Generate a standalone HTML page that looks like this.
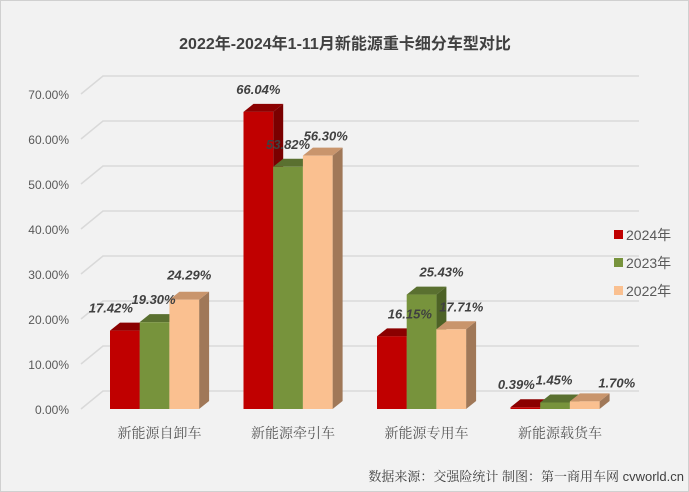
<!DOCTYPE html>
<html><head><meta charset="utf-8"><style>
body{margin:0;background:#fff}
#c{position:relative;width:689px;height:492px;background:#f2f2f2;box-sizing:border-box;border:1px solid #d0d0d0;overflow:hidden}
</style></head><body>
<div id="c">
<svg id="s" width="689" height="492" style="position:absolute;left:0;top:0"></svg>
</div>
<script>
const categories=["新能源自卸车","新能源牵引车","新能源专用车","新能源载货车"];
const series2024=[17.42,66.04,16.15,0.39];
const series2023=[19.30,53.82,25.43,1.45];
const series2022=[24.29,56.30,17.71,1.70];
const seriesNames=["2024年","2023年","2022年"];
const tickValues=[0,10,20,30,40,50,60,70];
const tickLabels=["0.00%","10.00%","20.00%","30.00%","40.00%","50.00%","60.00%","70.00%"];
const valueLabels2024=["17.42%","66.04%","16.15%","0.39%"];
const valueLabels2023=["19.30%","53.82%","25.43%","1.45%"];
const valueLabels2022=["24.29%","56.30%","17.71%","1.70%"];

const NS="http://www.w3.org/2000/svg";
const s=document.getElementById('s');
function mk(t,a,txt){const e=document.createElementNS(NS,t);for(const k in a)e.setAttribute(k,a[k]);if(txt!=null)e.textContent=txt;s.appendChild(e);return e;}
const y0=408, k=4.5;
const y=v=>y0-v*k;
const groupX=i=>109+i*133.5;
const bw=29.7, dx=10, dy=8;
const gdx=22, gdy=18;
const FONT='"Liberation Sans","Noto Sans CJK SC",sans-serif';

let t=mk('text',{x:344,y:48,'text-anchor':'middle','font-size':16,'font-weight':'bold',fill:'#404040','font-family':FONT},"2022年-2024年1-11月新能源重卡细分车型对比");


tickValues.forEach((v,i)=>{
  let l=mk('polyline',{points:`${80},${y(v)} ${80+gdx},${y(v)-gdy} 638,${y(v)-gdy}`,fill:'none',stroke:'#d9d9d9','stroke-width':1.5});
  
  let tx=mk('text',{x:68,y:y(v)+5,'text-anchor':'end','font-size':12,fill:'#595959','font-family':FONT},tickLabels[i]);
  
});

const sets=[[series2024,valueLabels2024,'#c00000','#8b0000','#7a0000'],[series2023,valueLabels2023,'#77933c','#5a7030','#4d6226'],[series2022,valueLabels2022,'#fac090','#c9956c','#a07858']];
categories.forEach((c,i)=>{
  sets.forEach((st,j)=>{
    const v=st[0][i];const x=groupX(i)+j*bw;const top=y(v);
    let side=mk('polygon',{points:`${x+bw},${top} ${x+bw+dx},${top-dy} ${x+bw+dx},${y0-dy} ${x+bw},${y0}`,fill:st[4]});
    
    let tp=mk('polygon',{points:`${x},${top} ${x+dx},${top-dy} ${x+bw+dx},${top-dy} ${x+bw},${top}`,fill:st[3]});
    
    let r=mk('rect',{x:x,y:top,width:bw,height:y0-top,fill:st[2]});
    
  });
  let cl=mk('text',{x:groupX(i)+bw*1.5+5,y:437,'text-anchor':'middle','font-size':14,fill:'#595959','font-family':'"Noto Serif CJK SC",serif'},c);
  
});
// value labels
const off=[[[-14,-10],[0,-10],[18,-10],[-9,-10]],[[-1,-10],[0,-10],[20,-10],[-1,-10]],[[5,-12],[8,-7],[10,-10],[32,-6]]];
sets.forEach((st,j)=>{
  categories.forEach((c,i)=>{
    const x=groupX(i)+j*bw+bw/2+off[j][i][0];const yy=y(st[0][i])-dy+off[j][i][1];
    let vl=mk('text',{x:x,y:yy,'text-anchor':'middle','font-size':13,'font-weight':'bold','font-style':'italic',fill:'#404040','font-family':FONT},st[1][i]);
    
  });
});
seriesNames.forEach((n,j)=>{
  const ly=234+j*28;
  let sq=mk('rect',{x:613,y:ly-5,width:9,height:9,fill:sets[j][2]});
  
  let lt=mk('text',{x:625,y:ly+5,'font-size':14,fill:'#595959','font-family':FONT},n);
  
});
let ft=mk('text',{x:683,y:480,'text-anchor':'end','font-size':13,fill:'#404040','font-family':'"Liberation Sans","Noto Serif CJK SC",serif'},"数据来源：交强险统计  制图：第一商用车网 cvworld.cn");

</script>
</body></html>
